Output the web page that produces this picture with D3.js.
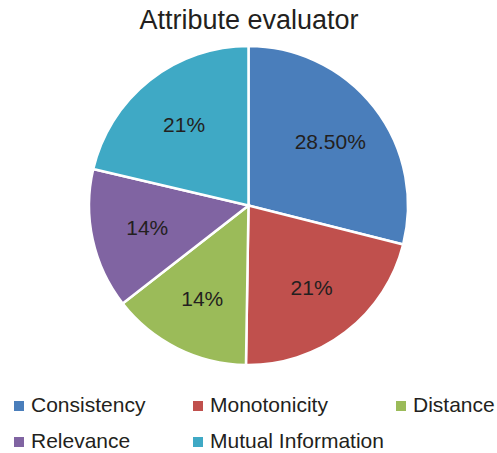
<!DOCTYPE html>
<html>
<head>
<meta charset="utf-8">
<script src="https://cdn.jsdelivr.net/npm/d3@7"></script>
<style>
  body { margin: 0; background: #fff; }
  text { font-family: "Liberation Sans", Arial, sans-serif; fill: #231f20; }
</style>
</head>
<body>
<div id="chart"></div>
<script>
'use strict'
const categories = ["Consistency", "Monotonicity", "Distance", "Relevance", "Mutual Information"]
const values = [28.5, 21, 14, 14, 21]
const labels = ["28.50%", "21%", "14%", "14%", "21%"]
const colors = ["#4a7ebb", "#c0504d", "#9bbb59", "#8064a2", "#3fa9c5"]

let w = 497, h = 453
let cx = 248.5, cy = 205.5, r = 159.5

let svg = d3.select('#chart').append('svg')
  .attr('width', w).attr('height', h)

svg.append('text')
  .attr('x', 249).attr('y', 29)
  .attr('text-anchor', 'middle')
  .style('font-size', '27px')
  .text('Attribute evaluator')

let pie = d3.pie().sort(null).value(d => d)
let arc = d3.arc().innerRadius(0).outerRadius(r)
let labelArc = d3.arc().innerRadius(r * 0.65).outerRadius(r * 0.65)

let g = svg.append('g').attr('transform', 'translate(' + cx + ',' + cy + ')')
let slices = g.selectAll('.slice').data(pie(values)).enter().append('g').attr('class', 'slice')

slices.append('path')
  .attr('d', arc)
  .attr('fill', (d, i) => colors[i])
  .attr('stroke', '#fff')
  .attr('stroke-width', 2.5)

slices.append('text')
  .attr('transform', d => 'translate(' + labelArc.centroid(d) + ')')
  .attr('text-anchor', 'middle')
  .attr('dy', '0.36em')
  .style('font-size', '21px')
  .text((d, i) => labels[i])

// legend: 3 columns, 2 rows
let colX = [14, 193, 396]
let rowY = [412, 448]
let legend = svg.selectAll('.legend').data(categories).enter().append('g')
  .attr('class', 'legend')
  .attr('transform', (d, i) => 'translate(' + colX[i % 3] + ',' + rowY[Math.floor(i / 3)] + ')')

legend.append('rect')
  .attr('x', 0).attr('y', -11)
  .attr('width', 10).attr('height', 10)
  .attr('fill', (d, i) => colors[i])

legend.append('text')
  .attr('x', 17).attr('y', 0)
  .style('font-size', '21px')
  .text(d => d)
</script>
</body>
</html>
